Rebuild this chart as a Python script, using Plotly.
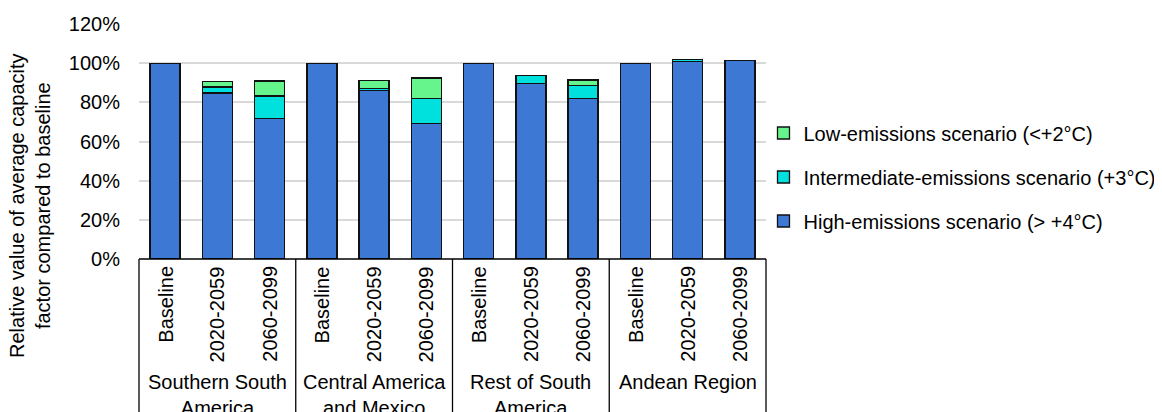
import plotly.graph_objects as go

groups = ["Southern South<br>America", "Central America<br>and Mexico", "Rest of South<br>America", "Andean Region"]
periods = ["Baseline", "2020-2059", "2060-2099"]

# stacked shares (fraction of baseline)
high = [1.000, 0.848, 0.719, 1.000, 0.862, 0.694, 1.000, 0.896, 0.821, 1.000, 1.008, 1.014]
inter = [None, 0.031, 0.113, None, 0.009, 0.126, None, 0.043, 0.067, None, 0.011, None]
low = [None, 0.026, 0.078, None, 0.041, 0.105, None, None, 0.027, None, None, None]

names = ["High-emissions scenario (> +4°C)",
         "Intermediate-emissions scenario (+3°C)",
         "Low-emissions scenario (<+2°C)"]
colors = ["#3C78D4", "#00E0DC", "#66F58C"]
ranks = [3, 2, 1]

FONT = "Liberation Sans, Arial, sans-serif"
FS = 20

x = list(range(len(groups) * len(periods)))

fig = go.Figure()
for i, (vals, nm, col) in enumerate(zip([high, inter, low], names, colors)):
    fig.add_trace(go.Bar(
        x=x, y=vals, name=nm, legendgroup=f"g{i}", legendrank=ranks[i],
        marker=dict(color=col, line=dict(color="#111111", width=1.3)),
    ))

n_per = len(periods)
ntot = len(x)
annotations = []
# period labels
for gi, g in enumerate(groups):
    for pi, p in enumerate(periods):
        annotations.append(dict(
            x=gi * n_per + pi, y=0, xref="x", yref="paper",
            text=p, textangle=-90, showarrow=False,
            xanchor="center", yanchor="top", yshift=-5,
            font=dict(family=FONT, size=FS, color="#000000"),
        ))
    annotations.append(dict(
        x=(gi + 0.5) / len(groups), y=0, xref="paper", yref="paper",
        text=g, showarrow=False, xanchor="center", yanchor="top", yshift=-110,
        font=dict(family=FONT, size=FS, color="#000000"),
    ))

# y-axis title
annotations.append(dict(
    x=0, y=0.2255, xref="paper", yref="paper", xshift=-109,
    text="Relative value of average capacity<br>factor compared to baseline",
    textangle=-90, showarrow=False, xanchor="center", yanchor="middle",
    font=dict(family=FONT, size=FS, color="#000000"),
))

shapes = [
    dict(type="line", xref="paper", yref="paper", x0=0, x1=1, y0=0, y1=0,
         line=dict(color="#000000", width=1.3)),
]
for k in range(len(groups) + 1):
    shapes.append(dict(type="line", xref="paper", yref="paper",
                       x0=k / len(groups), x1=k / len(groups), y0=0, y1=-0.8,
                       line=dict(color="#000000", width=1.3)))

W = 1220
fig.update_layout(
    width=W, height=404,
    margin=dict(l=131, r=W - 758, t=16, b=153, autoexpand=False),
    barmode="stack", bargap=0.426,
    plot_bgcolor="white", paper_bgcolor="white",
    font=dict(family=FONT, size=FS, color="#000000"),
    xaxis=dict(range=[-0.5, ntot - 0.5], showticklabels=False, showgrid=False,
               zeroline=False, showline=False, ticks="", automargin=False),
    yaxis=dict(range=[0, 1.2005], tickvals=[0, 0.2, 0.4, 0.6, 0.8, 1.0, 1.2],
               tickformat=".0%", showgrid=True, automargin=False,
               gridcolor="#D9D9D9", gridwidth=1.5, zeroline=False, showline=False,
               ticks="", ticklabelstandoff=18,
               tickfont=dict(family=FONT, size=FS, color="#000000")),
    legend=dict(x=0.996, xanchor="left", y=0.349, yanchor="middle",
                traceorder="grouped", tracegroupgap=15,
                font=dict(family=FONT, size=FS, color="#000000"),
                bgcolor="rgba(0,0,0,0)"),
    annotations=annotations, shapes=shapes,
)

fig.write_html("out.html")
